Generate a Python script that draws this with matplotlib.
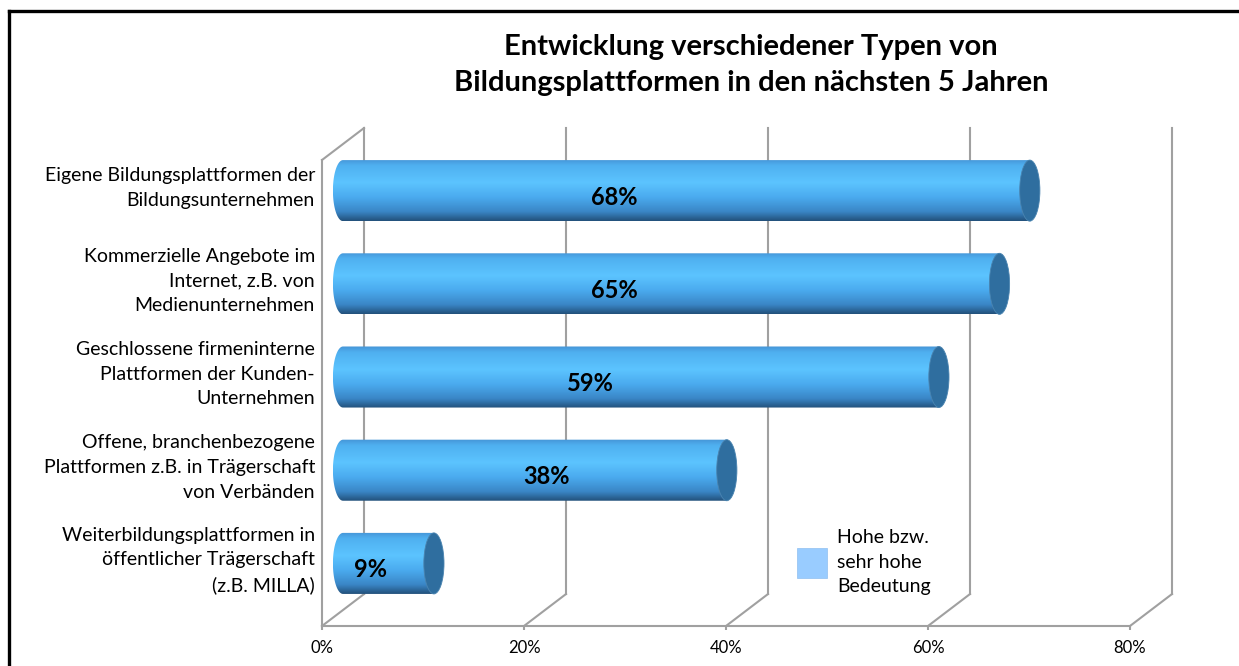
import matplotlib
matplotlib.use('Agg')
import matplotlib.pyplot as plt
import numpy as np
from matplotlib.colors import LinearSegmentedColormap
from matplotlib.patches import Polygon, Ellipse, Rectangle
from matplotlib.lines import Line2D

plt.rcParams['font.family'] = ['Lato', 'DejaVu Sans']

# Chart data (top to bottom)
categories = [
    'Eigene Bildungsplattformen der\nBildungsunternehmen',
    'Kommerzielle Angebote im\nInternet, z.B. von\nMedienunternehmen',
    'Geschlossene firmeninterne\nPlattformen der Kunden-\nUnternehmen',
    'Offene, branchenbezogene\nPlattformen z.B. in Trägerschaft\nvon Verbänden',
    'Weiterbildungsplattformen in\nöffentlicher Trägerschaft\n(z.B. MILLA)',
]
values = [68, 65, 59, 38, 9]
x_ticks = [0, 20, 40, 60, 80]
x_tick_labels = ['0%', '20%', '40%', '60%', '80%']
legend_label = 'Hohe bzw.\nsehr hohe\nBedeutung'
title = 'Entwicklung verschiedener Typen von\nBildungsplattformen in den nächsten 5 Jahren'

# where the value labels sit along each cylinder
label_pos = [26.9, 26.9, 24.5, 20.1, 2.7]

# 3-D depth of the plot box in data units
DX = 4.16
DY = 0.343
BAR_H = 0.655
CAP_W = 2.0
GRID = '#a0a0a0'

body_cmap = LinearSegmentedColormap.from_list('cyl', [
    (0.00, '#4594d6'),
    (0.10, '#4fb0f0'),
    (0.38, '#5cc4ff'),
    (0.62, '#4aaaee'),
    (0.85, '#3a86c6'),
    (1.00, '#22507a'),
])
CAP_COLOR = '#2f6e9f'

fig = plt.figure(figsize=(12.39, 6.66), dpi=100)
ax = fig.add_axes([0.25989, 0.06006, 0.68604, 0.7477])

n = len(categories)
ypos = np.arange(n)[::-1]

# back wall gridlines, floor diagonals, left wall
for xt in x_ticks:
    ax.plot([xt + DX, xt + DX], [-0.5 + DY, n - 0.5 + DY], color=GRID, lw=1.5,
            clip_on=False, zorder=1)
    ax.plot([xt, xt + DX], [-0.5, -0.5 + DY], color=GRID, lw=1.5,
            clip_on=False, zorder=1)
ax.plot([0, x_ticks[-1]], [-0.5, -0.5], color=GRID, lw=1.5, clip_on=False, zorder=1)
ax.plot([0, 0], [-0.5, n - 0.5], color=GRID, lw=1.5, clip_on=False, zorder=1)
ax.plot([0, DX], [n - 0.5, n - 0.5 + DY], color=GRID, lw=1.5, clip_on=False, zorder=1)

grad = np.linspace(0, 1, 256).reshape(-1, 1)
a = CAP_W / 2
b = BAR_H / 2
t = np.linspace(np.pi / 2, 3 * np.pi / 2, 60)

for y, v, lp in zip(ypos, values, label_pos):
    x0 = DX / 2
    x1 = v + DX / 2
    yc = y + DY / 2
    pts = np.column_stack([x0 + a * np.cos(t), yc + b * np.sin(t)])
    pts = np.vstack([pts, [[x1, yc - b], [x1, yc + b]]])
    clip = Polygon(pts, closed=True, transform=ax.transData)
    im = ax.imshow(grad, cmap=body_cmap, aspect='auto', origin='upper',
                   extent=[x0 - a, x1, yc - b, yc + b], zorder=2,
                   interpolation='bilinear')
    im.set_clip_path(clip)
    ax.add_patch(Ellipse((x1, yc), CAP_W, BAR_H, facecolor=CAP_COLOR,
                         edgecolor='#4a84b0', lw=0.6, zorder=3))
    ax.text(lp + DX / 2, yc - 0.07, f'{v}%', ha='center', va='center',
            fontsize=17, fontweight='bold', color='black', zorder=4)
    ax.text(-0.7, yc + 0.03, categories[n - 1 - y], ha='right', va='center',
            fontsize=14, linespacing=1.55, color='black')

ax.set_xlim(0, x_ticks[-1] + DX)
ax.set_ylim(-0.5, n - 0.5 + DY)
ax.set_xticks(x_ticks)
ax.set_xticklabels(x_tick_labels, fontsize=12)
ax.set_yticks([])
ax.tick_params(axis='x', length=3, width=1.5, color=GRID, pad=7)
for s in ax.spines.values():
    s.set_visible(False)
ax.patch.set_visible(False)

# legend
W, H = 1239.0, 666.0
fig.add_artist(Rectangle((797 / W, 1 - 578 / H), 30 / W, 30 / H,
                         facecolor='#99ccff', edgecolor='#8fbff0', lw=0.5,
                         transform=fig.transFigure))
fig.text(837 / W, 1 - 562 / H, legend_label, ha='left', va='center',
         fontsize=14, linespacing=1.55)

fig.text(751 / W, 1 - 65 / H, title, ha='center', va='center',
         fontsize=21, fontweight='bold', linespacing=1.46)

# outer frame
fig.add_artist(Line2D([9 / W, 1], [1 - 11 / H, 1 - 11 / H], color='black', lw=2.4,
                      transform=fig.transFigure))
fig.add_artist(Line2D([9 / W, 9 / W], [0, 1 - 11 / H], color='black', lw=2.4,
                      transform=fig.transFigure))

fig.savefig('out.png', dpi=100, facecolor='white')
